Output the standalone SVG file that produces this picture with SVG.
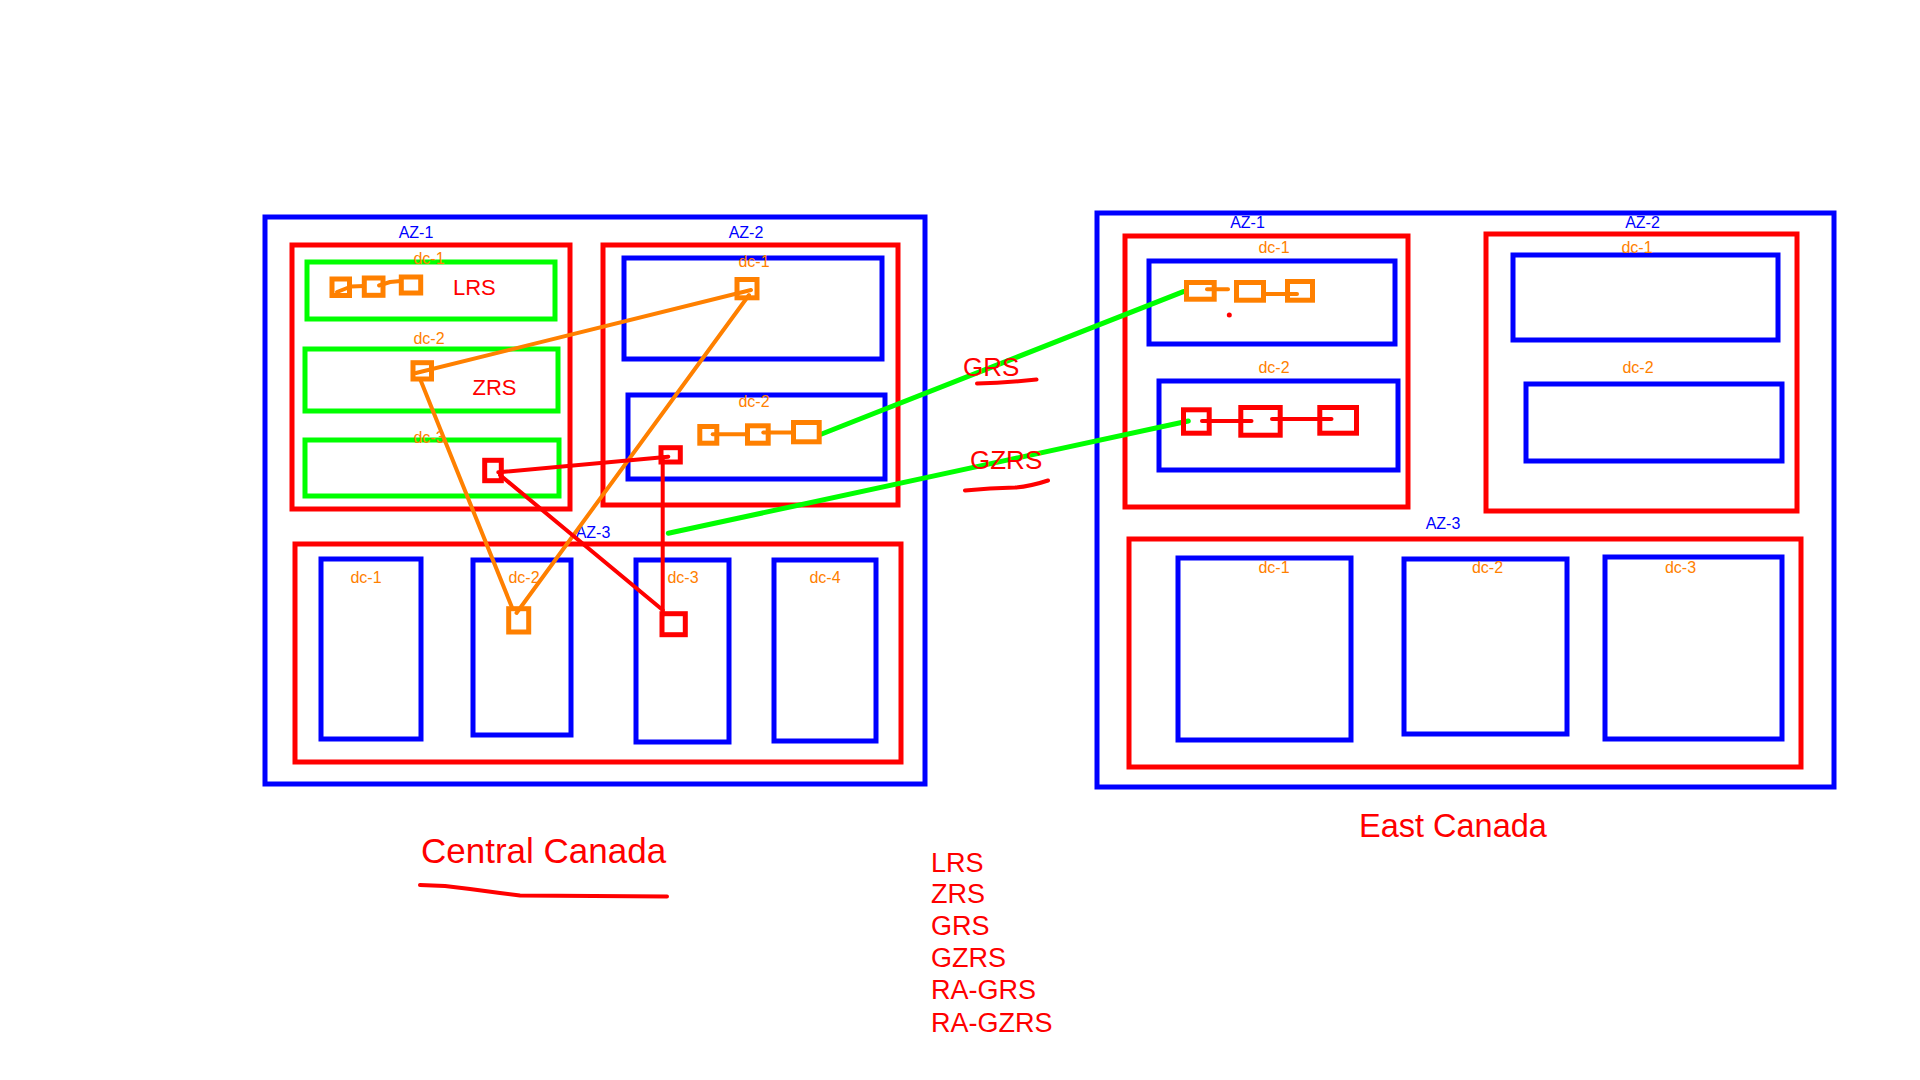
<svg xmlns="http://www.w3.org/2000/svg" width="1920" height="1080" viewBox="0 0 1920 1080">
<style>
text{font-family:"Liberation Sans",Arial,sans-serif}
.bl{fill:none;stroke:#0000FF;stroke-width:5}
.rd{fill:none;stroke:#FF0000;stroke-width:5}
.gr{fill:none;stroke:#00FF00;stroke-width:5}
.osq{fill:none;stroke:#FF8000;stroke-width:5}
.rsq{fill:none;stroke:#FF0000;stroke-width:5}
.az{fill:#0000FF;font-size:16px;text-anchor:middle}
.dc{fill:#FF8000;font-size:16px;text-anchor:middle}
.rt{fill:#FF0000}
.co{fill:none;stroke:#FF8000;stroke-width:4;stroke-linecap:round;stroke-linejoin:round}
.cr{fill:none;stroke:#FF0000;stroke-width:4;stroke-linecap:round;stroke-linejoin:round}
.cg{fill:none;stroke:#00FF00;stroke-width:5;stroke-linecap:round}
</style>
<rect width="1920" height="1080" fill="#FFFFFF"/>

<!-- Central Canada region -->
<g id="central-canada">
  <rect class="bl" x="265" y="217" width="660" height="567"/>
</g>
<g id="c-az1">
  <rect class="rd" x="292" y="245" width="278" height="264"/>
  <text class="az" x="416" y="238">AZ-1</text>
</g>
<g id="c-az1-dc1">
  <rect class="gr" x="307" y="262" width="248" height="57"/>
  <text class="dc" x="429" y="264">dc-1</text>
  <text class="rt" x="453" y="295" font-size="22">LRS</text>
  <rect class="osq" x="332" y="279" width="17.5" height="16.5" stroke-width="4"/>
  <rect class="osq" x="364.3" y="278" width="18.7" height="17.3" stroke-width="4"/>
  <rect class="osq" x="401.3" y="277" width="19.4" height="16" stroke-width="4"/>
</g>
<g id="c-az1-dc2">
  <rect class="gr" x="305" y="349" width="253" height="62"/>
  <text class="dc" x="429" y="344">dc-2</text>
  <text class="rt" x="472.5" y="395" font-size="22">ZRS</text>
</g>
<g id="c-az1-dc3">
  <rect class="gr" x="305" y="440" width="254" height="56"/>
  <text class="dc" x="429" y="443">dc-3</text>
</g>
<g id="c-az2">
  <rect class="rd" x="603" y="245" width="295" height="260"/>
  <text class="az" x="746" y="238">AZ-2</text>
</g>
<g id="c-az2-dc1">
  <rect class="bl" x="624" y="258" width="258" height="101"/>
  <text class="dc" x="754" y="267">dc-1</text>
</g>
<g id="c-az2-dc2">
  <rect class="bl" x="628" y="395" width="257" height="84"/>
  <text class="dc" x="754" y="407">dc-2</text>
</g>
<g id="c-az3">
  <rect class="rd" x="295" y="544" width="606" height="218"/>
  <text class="az" x="593" y="538">AZ-3</text>
</g>
<g id="c-az3-dc1">
  <rect class="bl" x="321" y="559" width="100" height="180"/>
  <text class="dc" x="366" y="583">dc-1</text>
</g>
<g id="c-az3-dc2">
  <rect class="bl" x="473" y="560" width="98" height="175"/>
  <text class="dc" x="524" y="583">dc-2</text>
</g>
<g id="c-az3-dc3">
  <rect class="bl" x="636" y="560" width="93" height="182"/>
  <text class="dc" x="683" y="583">dc-3</text>
</g>
<g id="c-az3-dc4">
  <rect class="bl" x="774" y="560" width="102" height="181"/>
  <text class="dc" x="825" y="583">dc-4</text>
</g>

<!-- East Canada region -->
<g id="east-canada">
  <rect class="bl" x="1097" y="213" width="737" height="574"/>
</g>
<g id="e-az1">
  <rect class="rd" x="1125" y="236" width="283" height="271"/>
  <text class="az" x="1247.5" y="228">AZ-1</text>
</g>
<g id="e-az1-dc1">
  <rect class="bl" x="1149" y="261" width="246" height="83"/>
  <text class="dc" x="1274" y="253">dc-1</text>
</g>
<g id="e-az1-dc2">
  <rect class="bl" x="1159" y="381" width="239" height="89"/>
  <text class="dc" x="1274" y="373">dc-2</text>
</g>
<g id="e-az2">
  <rect class="rd" x="1486" y="234" width="311" height="277"/>
  <text class="az" x="1642.5" y="228">AZ-2</text>
</g>
<g id="e-az2-dc1">
  <rect class="bl" x="1513" y="255" width="265" height="85"/>
  <text class="dc" x="1637" y="253">dc-1</text>
</g>
<g id="e-az2-dc2">
  <rect class="bl" x="1526" y="384" width="256" height="77"/>
  <text class="dc" x="1638" y="373">dc-2</text>
</g>
<g id="e-az3">
  <rect class="rd" x="1129" y="539" width="672" height="228"/>
  <text class="az" x="1443" y="529">AZ-3</text>
</g>
<g id="e-az3-dc1">
  <rect class="bl" x="1178" y="558" width="173" height="182"/>
  <text class="dc" x="1274" y="573">dc-1</text>
</g>
<g id="e-az3-dc2">
  <rect class="bl" x="1404" y="559" width="163" height="175"/>
  <text class="dc" x="1487.5" y="573">dc-2</text>
</g>
<g id="e-az3-dc3">
  <rect class="bl" x="1605" y="557" width="177" height="182"/>
  <text class="dc" x="1680.5" y="573">dc-3</text>
</g>

<!-- Connectors -->
<g id="connectors">
  <polyline class="co" points="337,292 351,286.5 364,286"/>
  <polyline class="co" points="379,285.5 390,282 401,281"/>
  <line class="co" x1="416" y1="373" x2="751" y2="290"/>
  <line class="co" x1="420.5" y1="380" x2="511.7" y2="606.7"/>
  <line class="co" x1="749" y1="295" x2="516.5" y2="613"/>
  <line class="co" x1="712.7" y1="434.3" x2="745" y2="434.3" stroke-width="5"/>
  <line class="co" x1="763.3" y1="432.5" x2="791" y2="432.5" stroke-width="5"/>
  <line class="cr" x1="498.3" y1="472.3" x2="668.3" y2="456.7"/>
  <line class="cr" x1="500" y1="475" x2="662.7" y2="610"/>
  <line class="cr" x1="662.7" y1="456.7" x2="662.7" y2="615" stroke-linecap="butt"/>
  <line class="cg" x1="821.7" y1="434" x2="1183.3" y2="291.7"/>
  <line class="cg" x1="668.3" y1="533.3" x2="1188.3" y2="421"/>
  <line class="co" x1="1207" y1="289.3" x2="1228" y2="289.3" stroke-width="5"/>
  <line class="co" x1="1266" y1="294" x2="1297" y2="294" stroke-width="5"/>
  <line class="cr" x1="1202" y1="421" x2="1251.5" y2="421" stroke-width="5"/>
  <line class="cr" x1="1272" y1="419" x2="1331.5" y2="419" stroke-width="5"/>
</g>

<!-- Replica squares -->
<g id="c-zrs-node"><rect class="osq" x="413" y="362.7" width="18.5" height="16.3" stroke-width="4"/></g>
<g id="c-az2-dc1-node"><rect class="osq" x="737" y="279.5" width="20" height="18.3"/></g>
<g id="c-az2-dc2-nodes">
  <rect class="osq" x="699.8" y="426.5" width="17" height="16.7"/>
  <rect class="osq" x="747.5" y="425.8" width="20.7" height="17.4"/>
  <rect class="osq" x="793.5" y="422.5" width="25.7" height="19.3"/>
</g>
<g id="c-az1-dc3-node"><rect class="rsq" x="484.7" y="460.3" width="16.6" height="20.4" stroke-width="4"/></g>
<g id="c-az2-dc2-rnode"><rect class="rsq" x="661" y="447.7" width="19.3" height="14.3" stroke-width="4"/></g>
<g id="c-az3-dc2-node"><rect class="osq" x="508.7" y="608.7" width="20" height="23.3" stroke-width="4"/></g>
<g id="c-az3-dc3-node"><rect class="rsq" x="662" y="613.7" width="23.3" height="21" stroke-width="4"/></g>
<g id="e-az1-dc1-nodes">
  <rect class="osq" x="1186.5" y="282.5" width="27.7" height="16.7"/>
  <rect class="osq" x="1236.5" y="282.5" width="27" height="17.7"/>
  <rect class="osq" x="1287.5" y="281.5" width="25" height="18.7"/>
  <circle cx="1229.3" cy="315" r="2.5" fill="#FF0000"/>
</g>
<g id="e-az1-dc2-nodes">
  <rect class="rsq" x="1183.5" y="409.8" width="25.7" height="23.4"/>
  <rect class="rsq" x="1240.8" y="407.5" width="39.4" height="27.7"/>
  <rect class="rsq" x="1319.8" y="407.5" width="36.7" height="25.7"/>
</g>

<!-- Annotations -->
<g id="grs-label">
  <text class="rt" x="963" y="375.5" font-size="26">GRS</text>
  <path class="cr" d="M977,383.5 Q1005,383 1036.5,379.5"/>
</g>
<g id="gzrs-label">
  <text class="rt" x="970" y="469.3" font-size="26">GZRS</text>
  <path class="cr" d="M965,490.5 Q990,488 1015,487.5 Q1030,486.5 1048,480.5"/>
</g>
<g id="central-title">
  <text class="rt" x="421" y="862.7" font-size="35">Central Canada</text>
  <polyline class="cr" points="420,885 445,886 470,889 500,893 520,895.5 667,896.5"/>
</g>
<g id="east-title">
  <text class="rt" x="1359" y="837.3" font-size="32.5">East Canada</text>
</g>
<g id="legend" font-size="27">
  <text class="rt" x="931" y="871.7">LRS</text>
  <text class="rt" x="931" y="903.3">ZRS</text>
  <text class="rt" x="931" y="935">GRS</text>
  <text class="rt" x="931" y="966.7">GZRS</text>
  <text class="rt" x="931" y="999">RA-GRS</text>
  <text class="rt" x="931" y="1031.7">RA-GZRS</text>
</g>
</svg>
